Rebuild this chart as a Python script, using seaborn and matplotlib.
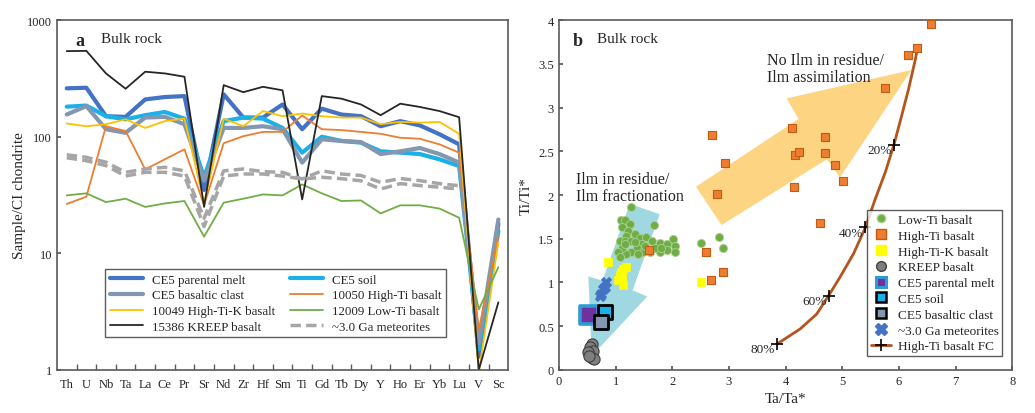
import numpy as np
import pandas as pd
import matplotlib
matplotlib.use("Agg")
import matplotlib.pyplot as plt
import seaborn as sns
from matplotlib.patches import Polygon
from matplotlib.lines import Line2D
from matplotlib.ticker import NullLocator

# ---- panel a: spider diagram data (Sample / CI chondrite) ----
elements = ['Th', 'U', 'Nb', 'Ta', 'La', 'Ce', 'Pr', 'Sr', 'Nd', 'Zr', 'Hf', 'Sm', 'Ti',
            'Gd', 'Tb', 'Dy', 'Y', 'Ho', 'Er', 'Yb', 'Lu', 'V', 'Sc']
ce5_parental = [260, 263, 150, 148, 209, 219, 223, 35, 231, 146, 146, 189, 116,
                174, 155, 150, 123, 136, 125, 105, 86, 1.3, 18]
ce5_soil = [181, 185, 150, 141, 153, 163, 143, 45, 136, 146, 143, 119, 73,
            100, 92, 89, 75, 73, 71, 64, 56, 1.5, 15.5]
ce5_clast = [155, 183, 116, 108, 146, 148, 128, 42, 119, 119, 123, 116, 60,
             95, 92, 90, 71, 75, 80, 71, 60, 1.7, 19.5]
hiti_10050 = [26.5, 30.6, 123, 112, 52.5, 64, 78, 26, 88, 101, 110, 110, 152,
              116, 114, 110, 106, 98, 96, 86, 73, 2.2, 14.2]
hitik_10049 = [130, 123, 128, 141, 119, 136, 143, 27, 143, 123, 166, 150, 158,
               150, 146, 146, 128, 134, 132, 134, 106, 0.95, 12.5]
loti_12009 = [31.4, 32.7, 27.5, 29.4, 25, 26.8, 28.1, 13.9, 27.2, 29.4, 32, 31.4, 39,
              32.7, 28.1, 28.4, 22, 25.8, 25.8, 24.2, 20.2, 3.3, 7.6]
kreep_15386 = [542, 545, 349, 258, 361, 349, 327, 25, 277, 241, 268, 250, 29,
               223, 212, 189, 153, 192, 180, 166, 147, 1.0, 3.8]
# two ~3.0 Ga meteorites, Th..Lu only
met_a = [70, 66.6, 60.5, 49.5, 52.9, 54.7, 51, 20, 51, 52.9, 50.2, 49.5, 43.4,
         51, 47.9, 46.5, 40.6, 43.8, 42, 39.6, 38]
met_b = [66, 62.3, 56.5, 46, 49.5, 49.5, 46, 17, 46, 47.9, 47.9, 46, 43.4,
         44.9, 43.7, 41.9, 35.6, 39.6, 38.1, 36.9, 35.6]

# ---- panel b: Ta/Ta* vs Ti/Ti* ----
lowti_x = [1.27, 1.09, 1.17, 1.26, 1.67, 1.12, 1.22, 1.34, 1.19, 1.08, 1.17, 1.28, 1.43, 1.54,
           1.64, 1.78, 1.90, 2.02, 2.05, 2.05, 1.90, 1.78, 1.70, 1.46, 1.37, 1.28, 1.19, 1.11,
           1.05, 1.07, 1.17, 1.49, 1.61, 1.40, 1.52, 1.34, 1.81, 2.51, 2.83, 2.89]
lowti_y = [1.86, 1.71, 1.71, 1.67, 1.66, 1.63, 1.59, 1.55, 1.53, 1.48, 1.48, 1.48, 1.51, 1.52,
           1.48, 1.45, 1.44, 1.50, 1.42, 1.35, 1.37, 1.35, 1.39, 1.44, 1.40, 1.35, 1.33, 1.40,
           1.35, 1.29, 1.44, 1.35, 1.35, 1.33, 1.42, 1.46, 1.40, 1.45, 1.52, 1.39]
hiti_x = [6.57, 6.32, 6.16, 5.75, 2.71, 2.93, 2.79, 4.12, 4.69, 4.16, 4.23, 4.69, 4.87, 5.02,
          4.15, 4.61, 1.59, 2.59, 2.69, 2.90]
hiti_y = [3.96, 3.68, 3.60, 3.22, 2.69, 2.37, 2.01, 2.77, 2.66, 2.46, 2.49, 2.48, 2.34, 2.16,
          2.09, 1.68, 1.37, 1.35, 1.03, 1.12]
hitik_x = [0.87, 1.18, 1.14, 1.10, 1.08, 1.11, 1.05, 1.14, 2.51]
hitik_y = [1.23, 1.18, 1.15, 1.12, 1.08, 1.05, 1.03, 0.975, 1.00]
kreep_x = [0.58, 0.55, 0.61, 0.52, 0.58, 0.62, 0.54]
kreep_y = [0.30, 0.26, 0.22, 0.20, 0.14, 0.12, 0.16]
met_x = [0.84, 0.81, 0.77, 0.74, 0.72]
met_y = [1.00, 0.95, 0.92, 0.87, 0.84]
parental_xy = (0.54, 0.63)
soil_xy = (0.81, 0.66)
clast_xy = (0.74, 0.545)
fc_x = [3.85, 4.26, 4.55, 4.76, 4.96, 5.20, 5.41, 5.58, 5.76, 5.91, 6.05, 6.17, 6.29, 6.33]
fc_y = [0.297, 0.47, 0.64, 0.85, 1.06, 1.33, 1.63, 1.95, 2.26, 2.57, 2.91, 3.21, 3.55, 3.69]
fc_step_x = [3.85, 4.76, 5.41, 5.91]
fc_step_y = [0.297, 0.85, 1.63, 2.57]
fc_step_lab = ['80%', '60%', '40%', '20%']

sns.set_theme(style='ticks')
plt.rcParams['font.family'] = ['Liberation Serif', 'DejaVu Serif']
plt.rcParams['xtick.direction'] = 'in'
plt.rcParams['ytick.direction'] = 'in'
frame_col = '#5a5a5a'

fig = plt.figure(figsize=(10.35, 4.14), dpi=100)
ax1 = fig.add_axes([0.055, 0.104, 0.436, 0.845])
ax2 = fig.add_axes([0.540, 0.104, 0.438, 0.845])

# ---------------- panel a ----------------
pos = np.arange(len(elements))
series = [
    ('CE5 parental melt', ce5_parental, '#4472c4', 3.0, '-'),
    ('CE5 soil', ce5_soil, '#1cb0e8', 3.0, '-'),
    ('CE5 basaltic clast', ce5_clast, '#8497b0', 3.0, '-'),
    ('10050 High-Ti basalt', hiti_10050, '#ed7d31', 1.3, '-'),
    ('10049 High-Ti-K basalt', hitik_10049, '#ffc000', 1.3, '-'),
    ('12009 Low-Ti basalt', loti_12009, '#70ad47', 1.3, '-'),
    ('15386 KREEP basalt', kreep_15386, '#262626', 1.3, '-'),
]
handles = {}
for name, vals, col, lw, ls in series:
    sns.lineplot(x=pos, y=vals, ax=ax1, color=col, lw=lw, ls=ls, sort=False)
    handles[name] = Line2D([], [], color=col, lw=lw, ls=ls)
for vals in (met_a, met_b):
    sns.lineplot(x=pos[:len(vals)], y=vals, ax=ax1, color='#a6a6a6', lw=2.5,
                 sort=False, dashes=False, ls=(0, (3, 1.5)))
handles['~3.0 Ga meteorites'] = Line2D([], [], color='#a6a6a6', lw=2.5, ls=(0, (3, 1.5)))

ax1.set_yscale('log')
ax1.set_ylim(1, 1000)
ax1.set_yticks([1, 10, 100, 1000])
ax1.set_yticklabels(['1', '10', '100', '1000'])
ax1.yaxis.set_minor_locator(NullLocator())
ax1.set_xlim(-0.5, len(elements) - 0.5)
ax1.set_xticks(pos)
ax1.set_xticklabels(elements)
ax1.set_xticks(pos[:-1] + 0.5, minor=True)
ax1.tick_params(axis='x', which='major', length=0, labelsize=9, pad=6)
ax1.tick_params(axis='x', which='minor', length=4, color=frame_col)
ax1.tick_params(axis='y', labelsize=9, length=3, color=frame_col)
ax1.set_ylabel('Sample/CI chondrite', fontsize=11)
ax1.yaxis.set_label_coords(-0.068, 0.5)
ax1.set_xlabel('')
ax1.text(0.040, 0.965, 'a', transform=ax1.transAxes, fontsize=13, fontweight='bold', va='top')
ax1.text(0.098, 0.965, 'Bulk rock', transform=ax1.transAxes, fontsize=11, va='top')

order = ['CE5 parental melt', 'CE5 basaltic clast', '10049 High-Ti-K basalt', '15386 KREEP basalt',
         'CE5 soil', '10050 High-Ti basalt', '12009 Low-Ti basalt', '~3.0 Ga meteorites']
leg1 = ax1.legend([handles[k] for k in order], order, ncol=2, loc='lower left',
                  bbox_to_anchor=(0.093, 0.075), fontsize=9.3, frameon=True, fancybox=False,
                  edgecolor='#333333', handlelength=2.6, columnspacing=1.1,
                  labelspacing=0.28, borderpad=0.35, handletextpad=0.7)
leg1.get_frame().set_linewidth(1.0)

# ---------------- panel b ----------------
yellow_arrow = [(2.42, 2.095), (4.23, 2.87), (4.02, 3.105), (6.22, 3.43),
                (4.96, 2.20), (4.73, 2.41), (2.87, 1.657)]
blue_arrow = [(1.25, 1.90), (1.78, 1.78), (1.30, 0.91), (1.56, 0.84),
              (0.58, 0.16), (0.52, 1.07), (0.77, 1.02)]
ax2.add_patch(Polygon(yellow_arrow, closed=True, facecolor='#fdd27a', edgecolor='none',
                      alpha=0.95, zorder=1))
ax2.add_patch(Polygon(blue_arrow, closed=True, facecolor='#9ad6e0', edgecolor='none',
                      alpha=0.95, zorder=1))

sns.lineplot(x=fc_x, y=fc_y, ax=ax2, color='#b5541c', lw=2, sort=False, zorder=2)
sns.scatterplot(x=fc_step_x, y=fc_step_y, ax=ax2, marker='+', color='black', s=70,
                linewidth=1.2, zorder=5)
for fx, fy, lab in zip(fc_step_x, fc_step_y, fc_step_lab):
    ax2.text(fx - 0.04, fy - 0.06, lab, fontsize=9.5, ha='right', va='center', zorder=6)

sns.scatterplot(x=lowti_x, y=lowti_y, ax=ax2, marker='o', s=34, color='#70ad47',
                edgecolor='#a9d18e', linewidth=0.6, zorder=3)
sns.scatterplot(x=hiti_x, y=hiti_y, ax=ax2, marker='s', s=38, color='#ed7d31',
                edgecolor='#c55a11', linewidth=0.8, zorder=3)
sns.scatterplot(x=hitik_x, y=hitik_y, ax=ax2, marker='s', s=32, color='#ffff00',
                edgecolor='#ffff00', linewidth=0.5, zorder=3)
sns.scatterplot(x=kreep_x, y=kreep_y, ax=ax2, marker='o', s=65, color='#7f7f7f',
                edgecolor='#404040', linewidth=0.8, zorder=3)
sns.scatterplot(x=met_x, y=met_y, ax=ax2, marker='X', s=60, color='#4472c4',
                edgecolor='#4472c4', linewidth=0.3, zorder=4)
sns.scatterplot(x=[parental_xy[0]], y=[parental_xy[1]], ax=ax2, marker='s', s=150,
                color='#7030a0', edgecolor='#2e9bd6', linewidth=2.6, zorder=4)
sns.scatterplot(x=[soil_xy[0]], y=[soil_xy[1]], ax=ax2, marker='s', s=90,
                color='#1cb0e8', edgecolor='black', linewidth=2.0, zorder=4)
sns.scatterplot(x=[clast_xy[0]], y=[clast_xy[1]], ax=ax2, marker='s', s=90,
                color='#8497b0', edgecolor='black', linewidth=2.0, zorder=4)

ax2.set_xlim(0, 8)
ax2.set_ylim(0, 4)
ax2.set_xticks(range(0, 9))
ax2.set_yticks(np.arange(0, 4.01, 0.5))
ax2.set_yticklabels(['0', '0.5', '1', '1.5', '2', '2.5', '3', '3.5', '4'])
ax2.tick_params(labelsize=9, length=3, color=frame_col)
ax2.set_xlabel('Ta/Ta*', fontsize=11, labelpad=4)
ax2.set_ylabel('Ti/Ti*', fontsize=11, labelpad=4)
ax2.text(0.030, 0.965, 'b', transform=ax2.transAxes, fontsize=13, fontweight='bold', va='top')
ax2.text(0.084, 0.965, 'Bulk rock', transform=ax2.transAxes, fontsize=11, va='top')
ax2.text(3.68, 3.64, 'No Ilm in residue/\nIlm assimilation', fontsize=11.5, va='top',
         linespacing=1.15, zorder=6)
ax2.text(0.31, 2.28, 'Ilm in residue/\nIlm fractionation', fontsize=11.5, va='top',
         linespacing=1.15, zorder=6)

leg_items = [
    (Line2D([], [], ls='none', marker='o', ms=6, mfc='#70ad47', mec='#a9d18e'), 'Low-Ti basalt'),
    (Line2D([], [], ls='none', marker='s', ms=7, mfc='#ed7d31', mec='#c55a11'), 'High-Ti basalt'),
    (Line2D([], [], ls='none', marker='s', ms=7, mfc='#ffff00', mec='#ffff00'), 'High-Ti-K basalt'),
    (Line2D([], [], ls='none', marker='o', ms=7, mfc='#7f7f7f', mec='#404040'), 'KREEP basalt'),
    (Line2D([], [], ls='none', marker='s', ms=7, mfc='#7030a0', mec='#2e9bd6', mew=2.2), 'CE5 parental melt'),
    (Line2D([], [], ls='none', marker='s', ms=7, mfc='#1cb0e8', mec='black', mew=1.8), 'CE5 soil'),
    (Line2D([], [], ls='none', marker='s', ms=7, mfc='#8497b0', mec='black', mew=1.8), 'CE5 basaltic clast'),
    (Line2D([], [], ls='none', marker='X', ms=8, mfc='#4472c4', mec='#4472c4'), '~3.0 Ga meteorites'),
    (Line2D([], [], color='#b5541c', lw=2, marker='+', ms=8, mec='black', mew=1.2), 'High-Ti basalt FC'),
]
leg2 = ax2.legend([h for h, _ in leg_items], [l for _, l in leg_items], loc='lower right',
                  bbox_to_anchor=(0.993, 0.02), fontsize=9.5, frameon=True, fancybox=False,
                  edgecolor='#333333', handlelength=1.5, labelspacing=0.27, borderpad=0.3,
                  handletextpad=0.5)
leg2.get_frame().set_linewidth(1.0)
leg2.set_zorder(10)

for ax in (ax1, ax2):
    for sp in ax.spines.values():
        sp.set_visible(True)
        sp.set_color(frame_col)
        sp.set_linewidth(1.2)

fig.savefig('out.png', dpi=100)
